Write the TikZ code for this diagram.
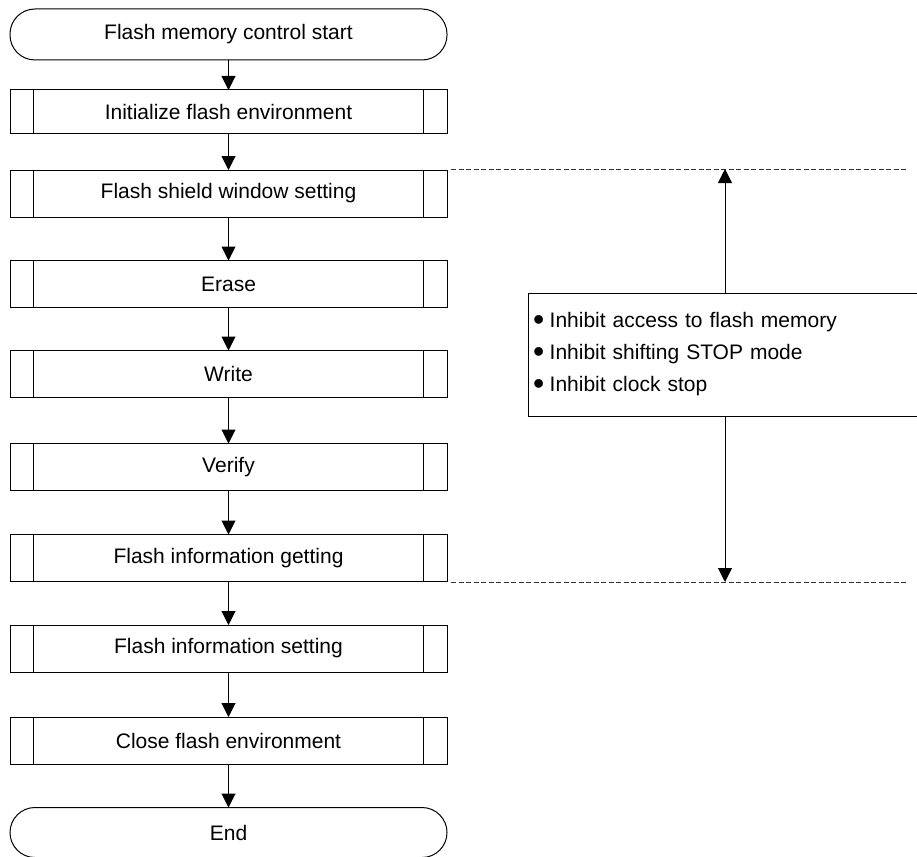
\documentclass[tikz,border=0pt]{standalone}
\usepackage{fontspec}
\setmainfont{Liberation Sans}
\usetikzlibrary{arrows.meta}
\newcommand{\notebullet}{\raisebox{-2.5pt}{\fontsize{32}{32}\selectfont\textbullet}\hspace{5.5pt}}
\begin{document}
\begin{tikzpicture}[x=1pt,y=-1pt,
  font=\fontsize{21}{32}\selectfont,
  every node/.style={inner sep=0pt, outer sep=0pt},
  term/.style={draw, line width=1pt, rounded corners=25pt, minimum width=437pt, minimum height=51pt},
  proc/.style={draw, line width=1pt, minimum width=437pt, minimum height=47pt},
  notebox/.style={draw, line width=1pt, minimum width=402pt, minimum height=123pt, text width=392pt, inner xsep=5pt, align=left},
  arr/.style={line width=1pt, -{Triangle[length=14pt,width=14pt]}},
  guide/.style={draw=black!80, line width=1pt, dash pattern=on 5pt off 2.5pt}]
\useasboundingbox (0,0) rectangle (917,856);
\clip (0,0) rectangle (917,856);

\node[term] (start) at (228.5,34.5) {Flash memory control start};
\node[proc, minimum height=43pt] (init) at (228.5,111.5) {Initialize flash environment};
\node[proc] (shield) at (228.5,193.5) {Flash shield window setting};
\node[proc] (erase) at (228.5,284) {Erase};
\node[proc] (write) at (228.5,374) {Write};
\node[proc] (verify) at (228.5,467) {Verify};
\node[proc] (getinfo) at (228.5,558) {Flash information getting};
\node[proc] (setinfo) at (228.5,648.5) {Flash information setting};
\node[proc] (close) at (228.5,740.5) {Close flash environment};
\node[term, minimum height=50pt] (end) at (228.5,832.5) {End};

\foreach \n in {init,shield,erase,write,verify,getinfo,setinfo,close}{
  \draw[line width=1pt] ([xshift=23.5pt]\n.north west) -- ([xshift=23.5pt]\n.south west);
  \draw[line width=1pt] ([xshift=-23.5pt]\n.north east) -- ([xshift=-23.5pt]\n.south east);
}

\draw[arr] (start) -- (init);
\draw[arr] (init) -- (shield);
\draw[arr] (shield) -- (erase);
\draw[arr] (erase) -- (write);
\draw[arr] (write) -- (verify);
\draw[arr] (verify) -- (getinfo);
\draw[arr] (getinfo) -- (setinfo);
\draw[arr] (setinfo) -- (close);
\draw[arr] (close) -- (end);

\node[notebox] (note) at (729,354.5) {\notebullet Inhibit access to flash memory\\
\notebullet Inhibit shifting STOP mode\\
\notebullet Inhibit clock stop};

\coordinate (tl) at (451,169);
\coordinate (tr) at (907,169);
\coordinate (bl) at (451,582);
\coordinate (br) at (907,582);
\coordinate (ut) at (725,169);
\coordinate (db) at (725,582);
\draw[guide] (tl) -- (tr);
\draw[guide] (bl) -- (br);
\draw[arr] (note.north -| ut) -- (ut);
\draw[arr] (note.south -| db) -- (db);
\end{tikzpicture}
\end{document}
